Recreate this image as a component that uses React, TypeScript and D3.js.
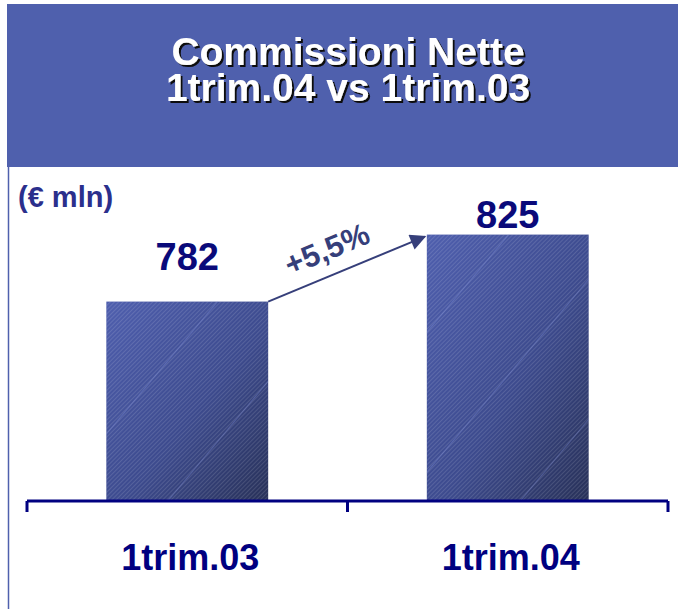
import React, { useRef, useEffect } from 'react';
import { select, scaleLinear, scaleBand } from 'd3';

const categories = ['1trim.03', '1trim.04'];
const values = [782, 825];
const valueLabels = ['782', '825'];
const titleLines = ['Commissioni Nette', '1trim.04 vs 1trim.03'];
const unitLabel = '(€ mln)';
const growthLabel = '+5,5%';

function App() {
  const rootRef = useRef<SVGSVGElement>(null);
  const width = 678;
  const height = 609;
  const axisY = 501;
  // gap between bar top and its value label (the 2nd label sits close to its bar)
  const labelGap = [32, 7];

  useEffect(() => {
    const root = select(rootRef.current);
    root.selectAll('*').remove();

    const defs = root.append('defs');
    const grad = defs.append('linearGradient')
      .attr('id', 'barGrad')
      .attr('x1', '0').attr('y1', '0').attr('x2', '1').attr('y2', '1');
    grad.append('stop').attr('offset', '0%').attr('stop-color', '#4f5fae');
    grad.append('stop').attr('offset', '55%').attr('stop-color', '#3d4b8e');
    grad.append('stop').attr('offset', '100%').attr('stop-color', '#283158');

    const hatch = defs.append('pattern')
      .attr('id', 'hatch')
      .attr('width', 3).attr('height', 3)
      .attr('patternUnits', 'userSpaceOnUse')
      .attr('patternTransform', 'rotate(45)');
    hatch.append('line')
      .attr('x1', 0).attr('y1', 0).attr('x2', 0).attr('y2', 3)
      .attr('stroke', '#ffffff').attr('stroke-opacity', 0.25).attr('stroke-width', 1);

    const stripes = defs.append('pattern')
      .attr('id', 'stripes')
      .attr('width', 90).attr('height', 90)
      .attr('patternUnits', 'userSpaceOnUse')
      .attr('patternTransform', 'rotate(40)');
    stripes.append('line')
      .attr('x1', 0).attr('y1', 0).attr('x2', 0).attr('y2', 90)
      .attr('stroke', '#8a98e0').attr('stroke-opacity', 0.35).attr('stroke-width', 2);

    const marker = defs.append('marker')
      .attr('id', 'arrowHead')
      .attr('viewBox', '0 0 10 10')
      .attr('refX', 9).attr('refY', 5)
      .attr('markerWidth', 9).attr('markerHeight', 8)
      .attr('markerUnits', 'strokeWidth')
      .attr('orient', 'auto');
    marker.append('path').attr('d', 'M0,0 L10,5 L0,10 Z').attr('fill', '#363f7a');

    const shadow = defs.append('filter').attr('id', 'txtShadow')
      .attr('x', '-10%').attr('y', '-10%').attr('width', '120%').attr('height', '130%');
    shadow.append('feDropShadow')
      .attr('dx', 2).attr('dy', 2).attr('stdDeviation', 0)
      .attr('flood-color', '#111111').attr('flood-opacity', 1);

    // header band
    root.append('rect')
      .attr('x', 7).attr('y', 4).attr('width', width - 7).attr('height', 163)
      .attr('fill', '#4f60ad');
    root.append('line')
      .attr('x1', 8.5).attr('x2', 8.5).attr('y1', 167).attr('y2', height)
      .attr('stroke', '#4f60ad').attr('stroke-width', 1.5);

    root.append('g')
      .selectAll('text')
      .data(titleLines)
      .join('text')
      .attr('x', 348)
      .attr('y', (d, i) => 65 + i * 36)
      .attr('text-anchor', 'middle')
      .attr('font-family', 'Liberation Sans, Arial, sans-serif')
      .attr('font-weight', 'bold')
      .attr('font-size', 39)
      .attr('fill', '#ffffff')
      .attr('filter', 'url(#txtShadow)')
      .text(d => d);

    root.append('text')
      .attr('x', 18).attr('y', 207)
      .attr('font-family', 'Liberation Sans, Arial, sans-serif')
      .attr('font-weight', 'bold')
      .attr('font-size', 29)
      .attr('fill', '#2b2f8c')
      .text(unitLabel);

    const xScale = scaleBand<string>()
      .domain(categories)
      .range([27, 668])
      .padding(0);

    const yScale = scaleLinear()
      .domain([654, 900])
      .range([axisY, axisY - 246 * 1.558]);

    const barW = xScale.bandwidth() * 0.505;
    const cx = (c: string) => (xScale(c) as number) + xScale.bandwidth() / 2;

    const bars = root.append('g');
    categories.forEach((c, i) => {
      const x = cx(c) - barW / 2;
      const y = yScale(values[i]);
      const h = axisY - y;
      bars.append('rect').attr('x', x).attr('y', y).attr('width', barW).attr('height', h)
        .attr('fill', 'url(#barGrad)');
      bars.append('rect').attr('x', x).attr('y', y).attr('width', barW).attr('height', h)
        .attr('fill', 'url(#hatch)');
      bars.append('rect').attr('x', x).attr('y', y).attr('width', barW).attr('height', h)
        .attr('fill', 'url(#stripes)');
    });

    root.append('g')
      .selectAll('text')
      .data(categories)
      .join('text')
      .attr('x', d => cx(d))
      .attr('y', (d, i) => yScale(values[i]) - labelGap[i])
      .attr('text-anchor', 'middle')
      .attr('font-family', 'Liberation Sans, Arial, sans-serif')
      .attr('font-weight', 'bold')
      .attr('font-size', 38)
      .attr('fill', '#0a0a7a')
      .text((d, i) => valueLabels[i]);

    // axis
    const axis = root.append('g').attr('stroke', '#000080').attr('stroke-width', 3);
    axis.append('line').attr('x1', 27).attr('x2', 668).attr('y1', axisY).attr('y2', axisY);
    const tickXs = [xScale(categories[0]) as number, xScale(categories[1]) as number, 668];
    axis.selectAll('line.tick')
      .data(tickXs)
      .join('line')
      .attr('class', 'tick')
      .attr('x1', d => d).attr('x2', d => d)
      .attr('y1', axisY).attr('y2', axisY + 11);

    root.append('g')
      .selectAll('text')
      .data(categories)
      .join('text')
      .attr('x', d => cx(d) + 3)
      .attr('y', 570)
      .attr('text-anchor', 'middle')
      .attr('font-family', 'Liberation Sans, Arial, sans-serif')
      .attr('font-weight', 'bold')
      .attr('font-size', 36)
      .attr('fill', '#000080')
      .text(d => d);

    // growth arrow
    const x0 = cx(categories[0]) + barW / 2;
    const y0 = yScale(values[0]);
    const x1 = cx(categories[1]) - barW / 2 - 2;
    const y1 = yScale(values[1]) + 2;
    root.append('line')
      .attr('x1', x0).attr('y1', y0).attr('x2', x1).attr('y2', y1)
      .attr('stroke', '#363f7a').attr('stroke-width', 2)
      .attr('marker-end', 'url(#arrowHead)');
    const ang = Math.atan2(y1 - y0, x1 - x0) * 180 / Math.PI;
    root.append('text')
      .attr('transform', `translate(331,259) rotate(${ang})`)
      .attr('text-anchor', 'middle')
      .attr('font-family', 'Liberation Sans, Arial, sans-serif')
      .attr('font-weight', 'bold')
      .attr('font-size', 31)
      .attr('fill', '#363f7a')
      .text(growthLabel);
  }, []);

  return (
    <div style={{ position: 'absolute', left: 0, top: 0 }}>
      <svg width={width} height={height} ref={rootRef} style={{ display: 'block', background: '#ffffff' }}></svg>
    </div>
  );
}

export default App;
